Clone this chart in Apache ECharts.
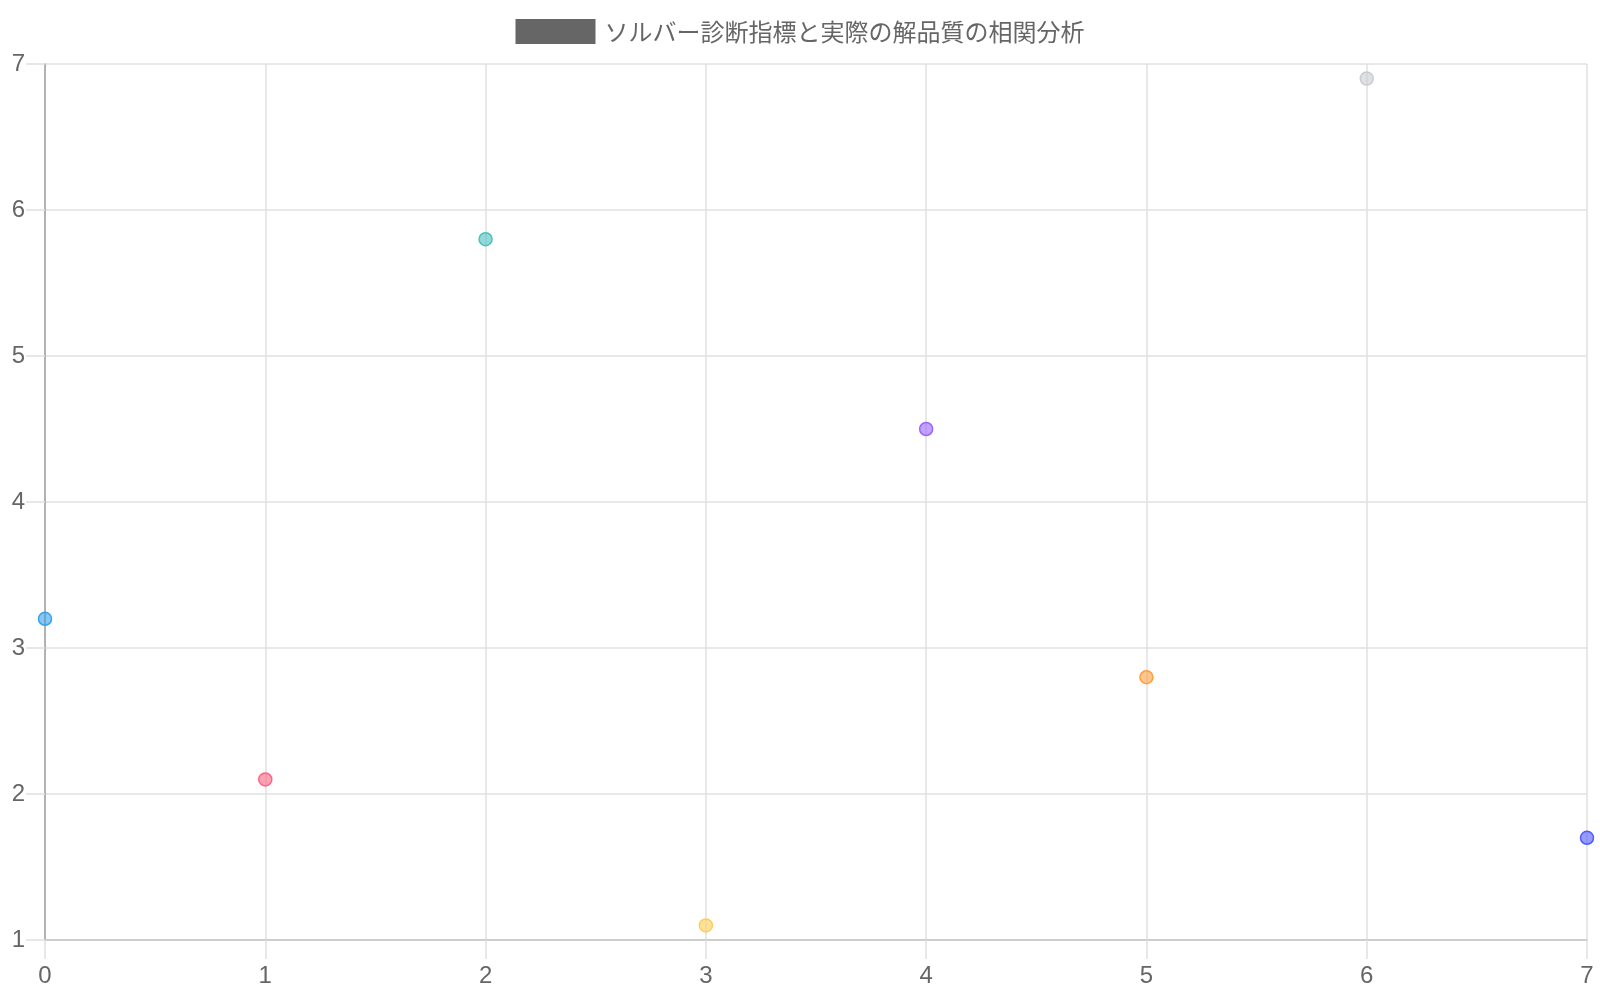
<!DOCTYPE html>
<html>
<head>
<meta charset="utf-8">
<script src="https://cdn.jsdelivr.net/npm/echarts@6/dist/echarts.min.js"></script>
<style>
  html, body { margin: 0; padding: 0; background: #fff; }
  #chart { width: 1600px; height: 1000px; }
</style>
</head>
<body>
<div id="chart"></div>
<script>
// データ
const seriesName = 'ソルバー診断指標と実際の解品質の相関分析';
const xValues = [0, 1, 2, 3, 4, 5, 6, 7];
const yValues = [3.2, 2.1, 5.8, 1.1, 4.5, 2.8, 6.9, 1.7];
const pointColors = [
    [54, 162, 235],
    [255, 99, 132],
    [75, 192, 192],
    [255, 205, 86],
    [153, 102, 255],
    [255, 159, 64],
    [201, 203, 207],
    [77, 91, 255]
];

const rgba = (c, a) => `rgba(${c[0]},${c[1]},${c[2]},${a})`;

const chart = echarts.init(document.getElementById('chart'));

const points = xValues.map((x, i) => ({
    value: [x, yValues[i]],
    itemStyle: {
        color: rgba(pointColors[i], 0.6),
        borderColor: rgba(pointColors[i], 1),
        borderWidth: 1.5,
        opacity: 1
    }
}));

const gridColor = '#e0e0e0';
const labelFont = { color: '#666', fontSize: 24, fontFamily: 'Liberation Sans, Arial, sans-serif' };

chart.setOption({
    animation: false,
    backgroundColor: '#fff',
    legend: {
        top: 14,
        left: 'center',
        icon: 'rect',
        itemWidth: 80,
        itemHeight: 25,
        itemGap: 10,
        data: [{ name: seriesName, itemStyle: { color: '#666', borderWidth: 0, opacity: 1 } }],
        textStyle: { color: '#666', fontSize: 24, padding: [0, 0, 0, 4], fontFamily: 'Noto Sans CJK JP, sans-serif' }
    },
    grid: { left: 45, right: 13, top: 64, bottom: 60, containLabel: false },
    xAxis: {
        type: 'value',
        min: 0,
        max: 7,
        interval: 1,
        axisLine: { show: true, onZero: false, lineStyle: { color: '#c4c4c4', width: 1.5 } },
        axisTick: { show: true, length: 19, lineStyle: { color: gridColor, width: 1.5 } },
        axisLabel: Object.assign({ margin: 24 }, labelFont),
        splitLine: { show: true, lineStyle: { color: gridColor, width: 1.5 } }
    },
    yAxis: {
        type: 'value',
        min: 1,
        max: 7,
        interval: 1,
        axisLine: { show: true, onZero: false, lineStyle: { color: '#a0a0a0', width: 1.5 } },
        axisTick: { show: true, length: 19, lineStyle: { color: gridColor, width: 1.5 } },
        axisLabel: Object.assign({ margin: 20 }, labelFont),
        splitLine: { show: true, lineStyle: { color: gridColor, width: 1.5 } }
    },
    series: [{
        name: seriesName,
        type: 'scatter',
        symbol: 'circle',
        symbolSize: 13,
        itemStyle: { opacity: 1 },
        data: points
    }]
});
</script>
</body>
</html>
